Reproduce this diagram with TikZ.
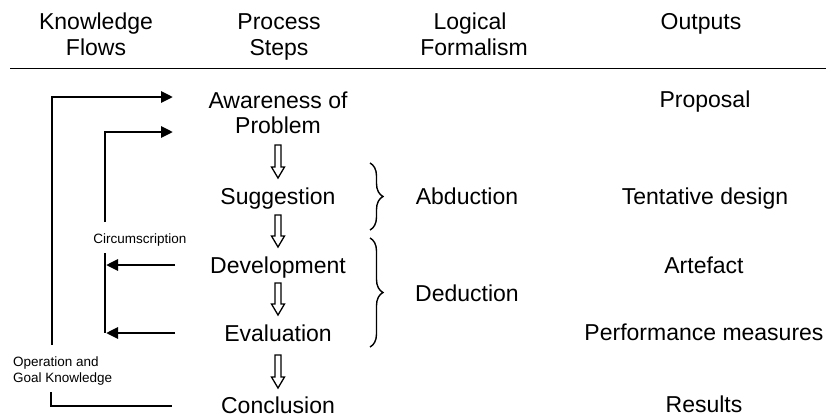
\documentclass[tikz,border=0pt]{standalone}
\usepackage{fontspec}
\setmainfont{Liberation Sans}
\usetikzlibrary{arrows.meta,decorations.pathreplacing}

% hollow downward arrow between process steps: x, top y, tip y
\newcommand\stepflow[3]{%
  \draw[stepflowline] (#1-3,#2) -- (#1+3,#2) -- (#1+3,#3-11) -- (#1+6.5,#3-11)
    -- (#1,#3) -- (#1-6.5,#3-11) -- (#1-3,#3-11) -- cycle;}

\begin{document}
\begin{tikzpicture}[x=1pt,y=-1pt,
  lbl/.style={inner sep=0pt,anchor=base,font=\fontsize{23}{27}\selectfont},
  smalllbl/.style={inner sep=0pt,anchor=base west,font=\fontsize{13.5}{16}\selectfont},
  flow/.style={line width=2.9pt,line join=miter},
  flowtip/.style={-{Triangle[length=12pt,width=11pt]}},
  stepflowline/.style={draw,line width=1.3pt,fill=white,line join=miter},
  bracemark/.style={decorate,decoration={brace,amplitude=13pt,aspect=0.5},line width=1.4pt}]

\useasboundingbox (0,0) rectangle (826,418);

% column headings
\node[lbl] (kf1) at (96,29) {Knowledge};
\node[lbl] (kf2) at (96,55) {Flows};
\node[lbl] (ps1) at (279,29) {Process};
\node[lbl] (ps2) at (279,55) {Steps};
\node[lbl] (lf1) at (470,29) {Logical};
\node[lbl] (lf2) at (474,55) {Formalism};
\node[lbl] (op)  at (701,29) {Outputs};
\coordinate (rule1) at (10,68.5);
\coordinate (rule2) at (826,68.5);
\draw[line width=1.8pt] (rule1) -- (rule2);

% process steps
\node[lbl] (aw) at (278,108.5) {Awareness of};
\node[lbl] (pb) at (278,133) {Problem};
\node[lbl] (sg) at (278,204.5) {Suggestion};
\node[lbl] (dv) at (278,273.5) {Development};
\node[lbl] (ev) at (278,341.5) {Evaluation};
\node[lbl] (cc) at (278,413) {Conclusion};

\stepflow{278}{145}{178}
\stepflow{278}{215}{247}
\stepflow{278}{283}{315}
\stepflow{278}{355}{388}

% logical formalism
\coordinate (b1t) at (370,163);
\coordinate (b1b) at (370,230);
\coordinate (b2t) at (370,238);
\coordinate (b2b) at (370,347);
\draw[bracemark] (b1t) -- (b1b);
\draw[bracemark] (b2t) -- (b2b);
\node[lbl] (ab) at (467,204) {Abduction};
\node[lbl] (de) at (467,301.5) {Deduction};

% outputs
\node[lbl] (pr) at (705,107) {Proposal};
\node[lbl] (td) at (705,204.5) {Tentative design};
\node[lbl] (ar) at (704,273.5) {Artefact};
\node[lbl] (pm) at (704,340.5) {Performance measures};
\node[lbl] (rs) at (704,412) {Results};

% knowledge flows
\coordinate (o1) at (52,345);
\coordinate (o2) at (52,97);
\coordinate (o3) at (173,97);
\draw[flow,flowtip] (o1) -- (o2) -- (o3);
\coordinate (g1) at (51,392);
\coordinate (g2) at (51,406);
\coordinate (g3) at (172,406);
\draw[flow] (g1) -- (g2) -- (g3);

\coordinate (c1) at (105,222);
\coordinate (c2) at (105,132);
\coordinate (c3) at (173,132);
\draw[flow,flowtip] (c1) -- (c2) -- (c3);
\coordinate (d1) at (105,253);
\coordinate (d2) at (105,333);
\draw[flow] (d1) -- (d2);
\coordinate (dvs) at (175,265);
\coordinate (dvt) at (106,265);
\coordinate (evs) at (175,333);
\coordinate (evt) at (106,333);
\draw[flow,flowtip] (dvs) -- (dvt);
\draw[flow,flowtip] (evs) -- (evt);

\node[inner sep=0pt,anchor=base,font=\fontsize{13.5}{16}\selectfont] (circ) at (140,243) {Circumscription};
\node[smalllbl] (og1) at (13,366) {Operation and};
\node[smalllbl] (og2) at (13,382.5) {Goal Knowledge};
\end{tikzpicture}
\end{document}
